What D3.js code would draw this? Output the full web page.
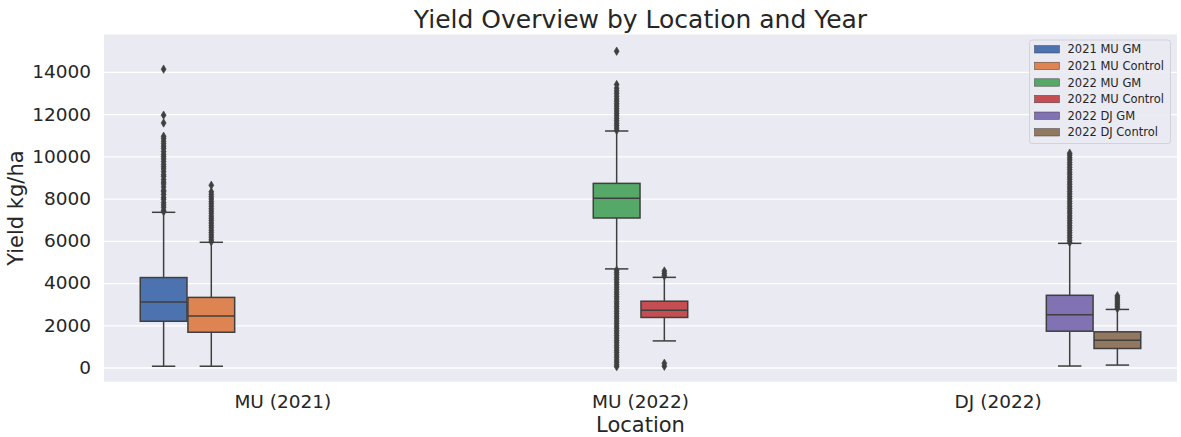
<!DOCTYPE html>
<html>
<head>
<meta charset="utf-8">
<script src="https://cdn.jsdelivr.net/npm/d3@7"></script>
<style>
  html, body { margin: 0; padding: 0; background: #ffffff; }
  svg { display: block; }
  text { font-family: "DejaVu Sans", sans-serif; fill: #262626; }
</style>
</head>
<body>
<svg id="chart" width="1181" height="437"></svg>
<script>
// ---------------- data ----------------
const categories = ["MU (2021)", "MU (2022)", "DJ (2022)"];
const hues = ["2021 MU GM", "2021 MU Control", "2022 MU GM", "2022 MU Control", "2022 DJ GM", "2022 DJ Control"];
const hueCategory = ["MU (2021)", "MU (2021)", "MU (2022)", "MU (2022)", "DJ (2022)", "DJ (2022)"];
const hueColors = ["#4c72b0", "#dd8452", "#55a868", "#c44e52", "#8172b3", "#937860"];

const whiskerLow  = [60, 60, 4670, 1260, 70, 115];
const q1          = [2190, 1670, 7080, 2370, 1720, 900];
const median      = [3100, 2440, 8010, 2710, 2500, 1290];
const q3          = [4260, 3320, 8720, 3140, 3420, 1690];
const whiskerHigh = [7350, 5930, 11200, 4270, 5880, 2750];

const outliers2021MUGM = [7380, 7450, 7590, 7700, 7810, 7960, 8050, 8190, 8320, 8400, 8550, 8690, 8780, 8900, 9050, 9130, 9270, 9400, 9510, 9620, 9750, 9880, 9990, 10100, 10230, 10370, 10480, 10600, 10720, 10850, 10950, 11580, 11950, 14130];
const outliers2021MUControl = [5960, 6050, 6170, 6280, 6390, 6500, 6620, 6730, 6840, 6960, 7070, 7180, 7300, 7410, 7520, 7640, 7750, 7860, 7980, 8090, 8200, 8320, 8630];
const outliers2022MUGM = [11230, 11340, 11460, 11570, 11690, 11800, 11920, 12030, 12150, 12260, 12380, 12490, 12610, 12720, 12850, 12980, 13100, 13230, 13400, 14980,
  4610, 4500, 4390, 4270, 4160, 4040, 3930, 3810, 3700, 3580, 3470, 3350, 3240, 3120, 3010, 2890, 2780, 2660, 2550, 2430, 2320, 2200, 2090, 1970, 1860, 1740, 1630, 1510, 1400, 1280, 1170, 1050, 940, 820, 710, 590, 480, 360, 250, 130, 40];
const outliers2022MUControl = [4340, 4450, 4570, 60, 200];
const outliers2022DJGM = [5920, 6030, 6150, 6260, 6380, 6490, 6610, 6720, 6840, 6950, 7070, 7180, 7300, 7410, 7530, 7640, 7760, 7870, 7990, 8100, 8220, 8330, 8450, 8560, 8680, 8790, 8910, 9020, 9140, 9250, 9370, 9480, 9600, 9710, 9830, 9940, 10060, 10150];
const outliers2022DJControl = [2790, 2880, 2970, 3060, 3150, 3240, 3330, 3400];
const outliers = [outliers2021MUGM, outliers2021MUControl, outliers2022MUGM, outliers2022MUControl, outliers2022DJGM, outliers2022DJControl];

const yTicks = [0, 2000, 4000, 6000, 8000, 10000, 12000, 14000];
const yDomain = [-672, 15770];

const titleText = "Yield Overview by Location and Year";
const xLabelText = "Location";
const yLabelText = "Yield kg/ha";

// ---------------- layout ----------------
const plot = { left: 104, right: 1177, top: 34.5, bottom: 381.7 };
const lineColor = "#3f3f3f";

const svg = d3.select("#chart");

const x = d3.scaleBand().domain(categories).range([plot.left, plot.right]).padding(0);
const bw = x.bandwidth();
const xHue = d3.scaleBand().domain(hues).range([0.1 * bw, 0.9 * bw]).padding(0);
const y = d3.scaleLinear().domain(yDomain).range([plot.bottom, plot.top]);

// background
svg.append("rect")
  .attr("x", plot.left).attr("y", plot.top)
  .attr("width", plot.right - plot.left).attr("height", plot.bottom - plot.top)
  .attr("fill", "#eaeaf2");

// y axis (grid + labels)
const yAxis = d3.axisLeft(y).tickValues(yTicks).tickSize(-(plot.right - plot.left)).tickPadding(13).tickFormat(d3.format("d"));
const yg = svg.append("g").attr("transform", `translate(${plot.left},0)`).call(yAxis);
yg.select(".domain").remove();
yg.selectAll(".tick line").attr("stroke", "#ffffff").attr("stroke-width", 1.3);
yg.selectAll(".tick text").attr("font-size", 18.5).attr("fill", "#262626").attr("font-family", "DejaVu Sans, sans-serif");

// x axis labels
const xAxis = d3.axisBottom(x).tickSize(0).tickPadding(13);
const xg = svg.append("g").attr("transform", `translate(0,${plot.bottom})`).call(xAxis);
xg.select(".domain").remove();
xg.selectAll(".tick text").attr("font-size", 18.5).attr("fill", "#262626").attr("font-family", "DejaVu Sans, sans-serif");

// boxes
const boxW = xHue.bandwidth() * 0.98;
const data = hues.map((h, i) => ({
  hue: h, cat: hueCategory[i], color: hueColors[i],
  lo: whiskerLow[i], q1: q1[i], med: median[i], q3: q3[i], hi: whiskerHigh[i], out: outliers[i]
}));

const g = svg.append("g");
data.forEach(d => {
  const cx = x(d.cat) + xHue(d.hue) + xHue.bandwidth() / 2;
  const bg = g.append("g");
  // whiskers
  bg.append("line").attr("x1", cx).attr("x2", cx).attr("y1", y(d.q3)).attr("y2", y(d.hi))
    .attr("stroke", lineColor).attr("stroke-width", 1.5);
  bg.append("line").attr("x1", cx).attr("x2", cx).attr("y1", y(d.q1)).attr("y2", y(d.lo))
    .attr("stroke", lineColor).attr("stroke-width", 1.5);
  // caps
  [d.hi, d.lo].forEach(v => {
    bg.append("line").attr("x1", cx - boxW / 4).attr("x2", cx + boxW / 4).attr("y1", y(v)).attr("y2", y(v))
      .attr("stroke", lineColor).attr("stroke-width", 1.5);
  });
  // box
  bg.append("rect").attr("x", cx - boxW / 2).attr("width", boxW)
    .attr("y", y(d.q3)).attr("height", y(d.q1) - y(d.q3))
    .attr("fill", d.color).attr("stroke", lineColor).attr("stroke-width", 1.5);
  // median
  bg.append("line").attr("x1", cx - boxW / 2).attr("x2", cx + boxW / 2).attr("y1", y(d.med)).attr("y2", y(d.med))
    .attr("stroke", lineColor).attr("stroke-width", 1.5);
  // outliers (thin diamonds)
  bg.selectAll("path.flier").data(d.out).enter().append("path")
    .attr("class", "flier")
    .attr("d", "M0,-4.2L2.5,0L0,4.2L-2.5,0Z")
    .attr("transform", v => `translate(${cx},${y(v)})`)
    .attr("fill", lineColor).attr("stroke", lineColor).attr("stroke-width", 0.6);
});

// title & axis labels
svg.append("text").attr("x", (plot.left + plot.right) / 2).attr("y", 27.5)
  .attr("text-anchor", "middle").attr("font-size", 25).text(titleText);
svg.append("text").attr("x", (plot.left + plot.right) / 2).attr("y", 432)
  .attr("text-anchor", "middle").attr("font-size", 21).text(xLabelText);
svg.append("text").attr("transform", `translate(23,${(plot.top + plot.bottom) / 2}) rotate(-90)`)
  .attr("text-anchor", "middle").attr("font-size", 21).text(yLabelText);

// legend
const leg = svg.append("g");
leg.append("rect").attr("x", 1029.5).attr("y", 40).attr("width", 141).attr("height", 103.5)
  .attr("rx", 2.5).attr("fill", "#eaeaf2").attr("fill-opacity", 0.9)
  .attr("stroke", "#d2d2da").attr("stroke-width", 1);
const rowY = d3.scalePoint().domain(hues).range([49.3, 132.3]);
hues.forEach((h, i) => {
  leg.append("rect").attr("x", 1034.5).attr("y", rowY(h) - 3.7).attr("width", 25).attr("height", 7.4)
    .attr("fill", hueColors[i]).attr("stroke", lineColor).attr("stroke-width", 0.5);
  leg.append("text").attr("x", 1067.5).attr("y", rowY(h)).attr("dy", "0.36em")
    .attr("font-size", 11.5).text(h);
});
</script>
</body>
</html>
